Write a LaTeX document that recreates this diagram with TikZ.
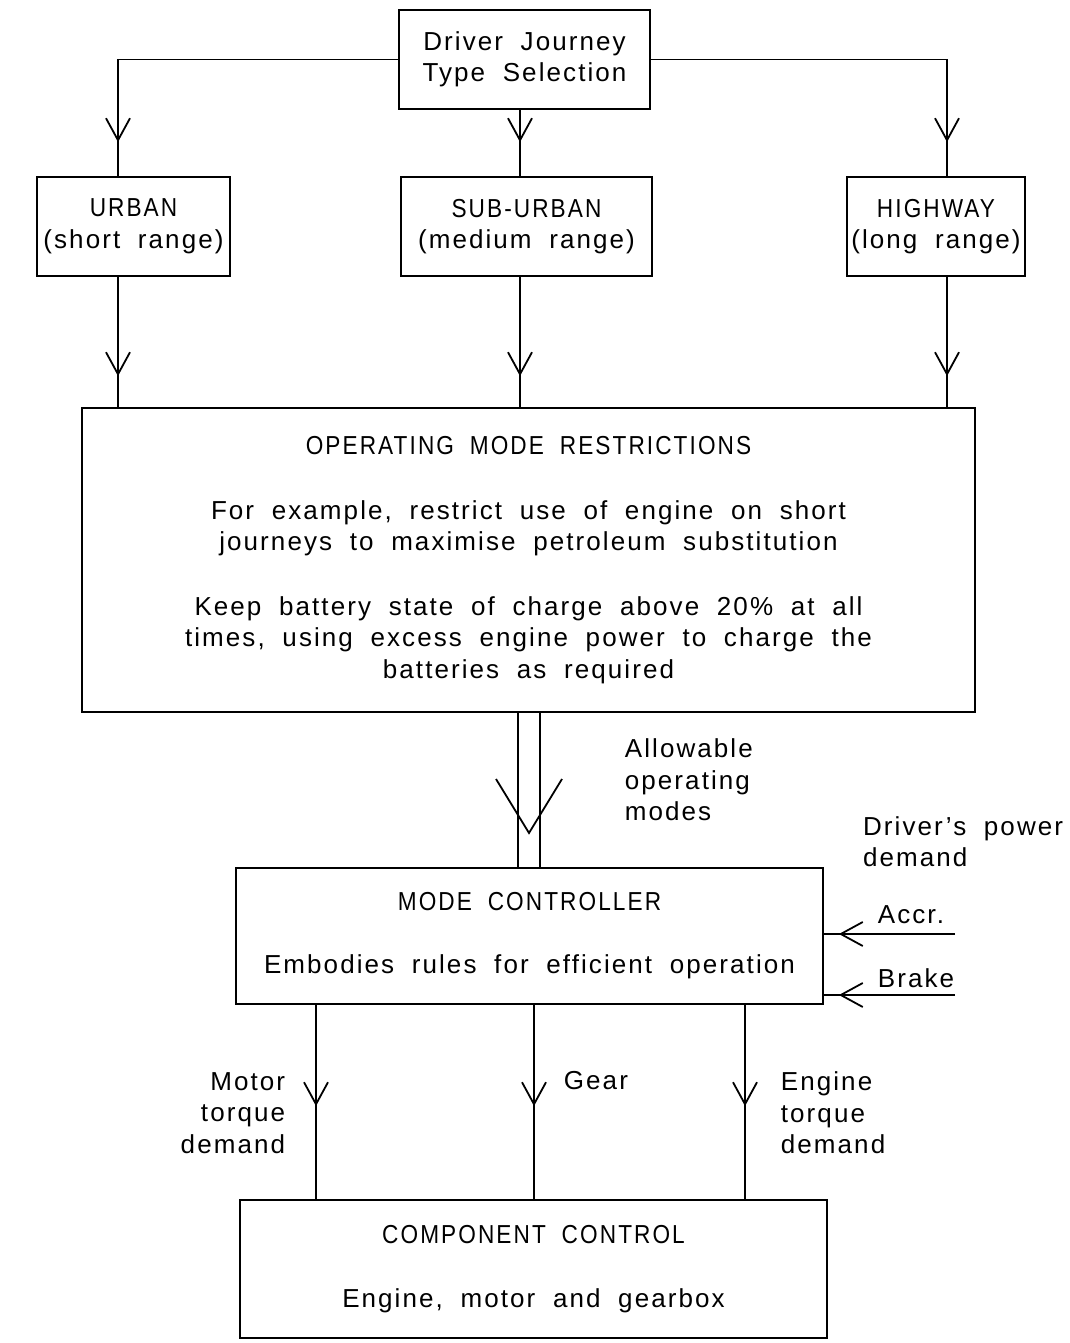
\documentclass[tikz,border=0pt]{standalone}
\usepackage{fontspec}
\setmainfont{Liberation Sans}[LetterSpace=8, WordSpace=1.9]
\newfontfamily\capsfont{Liberation Sans}[LetterSpace=8, WordSpace=1.9, FakeStretch=0.87]
\usetikzlibrary{arrows.meta,decorations.markings}
\begin{document}
\begin{tikzpicture}[x=1pt,y=-1pt,
  line width=1.8pt,
  txt/.style={font=\fontsize{26}{31.5}\selectfont, inner sep=0pt},
  box/.style={draw, txt, align=center, anchor=center},
  midarrow/.style={postaction={decorate},
    decoration={markings, mark=at position #1 with {\arrow{Straight Barb[length=22pt,width=24pt]}}}},
]
\useasboundingbox (0,0) rectangle (1070,1343);

% column positions
\coordinate (xl) at (118,0);
\coordinate (xc) at (520,0);
\coordinate (xr) at (947,0);
\coordinate (dl) at (518,0);
\coordinate (dr) at (540,0);
\coordinate (mx1) at (316,0);
\coordinate (mx2) at (534,0);
\coordinate (mx3) at (745,0);

% boxes
\node[box, minimum width=251pt, minimum height=99pt] (driver) at (524.5,59.5)
  {Driver Journey\\Type Selection};
\node[box, minimum width=193pt, minimum height=99pt] (urban) at (133.5,226.5)
  {{\capsfont URBAN}\\(short range)};
\node[box, minimum width=251pt, minimum height=99pt] (suburban) at (526.5,226.5)
  {{\capsfont SUB-URBAN}\\(medium range)};
\node[box, minimum width=178pt, minimum height=99pt] (highway) at (936,226.5)
  {{\capsfont HIGHWAY}\\(long range)};
\node[box, minimum width=893pt, minimum height=304pt] (omr) at (528.5,560)
  {{\capsfont OPERATING MODE RESTRICTIONS}\\[33pt]
   For example, restrict use of engine on short\\
   journeys to maximise petroleum substitution\\[33pt]
   Keep battery state of charge above 20\% at all\\
   times, using excess engine power to charge the\\
   batteries as required};
\node[box, minimum width=587pt, minimum height=136pt] (mc) at (529.5,936)
  {{\capsfont MODE CONTROLLER}\\[31.5pt]
   Embodies rules for efficient operation};
\node[box, minimum width=587pt, minimum height=138pt] (cc) at (533.5,1269)
  {{\capsfont COMPONENT CONTROL}\\[32pt]
   Engine, motor and gearbox};

% top connectors
\draw[midarrow=-34pt] (driver.west) -| (xl |- urban.north);
\draw[midarrow=-34pt] (driver.east) -| (xr |- highway.north);
\draw[midarrow=-34pt] (xc |- driver.south) -- (xc |- suburban.north);

% to operating mode restrictions
\draw[midarrow=-31pt] (xl |- urban.south) -- (xl |- omr.north);
\draw[midarrow=-31pt] (xc |- suburban.south) -- (xc |- omr.north);
\draw[midarrow=-31pt] (xr |- highway.south) -- (xr |- omr.north);

% double line with big open arrowhead
\draw (dl |- omr.south) -- (dl |- mc.north);
\draw (dr |- omr.south) -- (dr |- mc.north);
\coordinate (vtip) at (529,833);
\draw ([shift={(-33,-54)}]vtip) -- (vtip) -- ([shift={(33,-54)}]vtip);
\node[txt, align=left, anchor=west] (allow) at (624,780)
  {Allowable\\operating\\modes};

% driver inputs
\node[txt, align=left, anchor=east] (dpd) at (1064,841.5) {Driver's power\\demand};
\coordinate (accrend) at (955,934);
\coordinate (brakeend) at (955,995);
\draw[midarrow=-15pt] (accrend) -- (accrend -| mc.east);
\draw[midarrow=-15pt] (brakeend) -- (brakeend -| mc.east);
\node[txt, anchor=west] (accr) at (877,915) {Accr.};
\node[txt, anchor=west] (brake) at (877,978) {Brake};

% to component control
\draw[midarrow=-93pt] (mx1 |- mc.south) -- (mx1 |- cc.north);
\draw[midarrow=-93pt] (mx2 |- mc.south) -- (mx2 |- cc.north);
\draw[midarrow=-93pt] (mx3 |- mc.south) -- (mx3 |- cc.north);
\node[txt, align=right, anchor=east] (motor) at (286,1113) {Motor\\torque\\demand};
\node[txt, anchor=west] (gear) at (563,1081) {Gear};
\node[txt, align=left, anchor=west] (engine) at (780,1113) {Engine\\torque\\demand};
\end{tikzpicture}
\end{document}
